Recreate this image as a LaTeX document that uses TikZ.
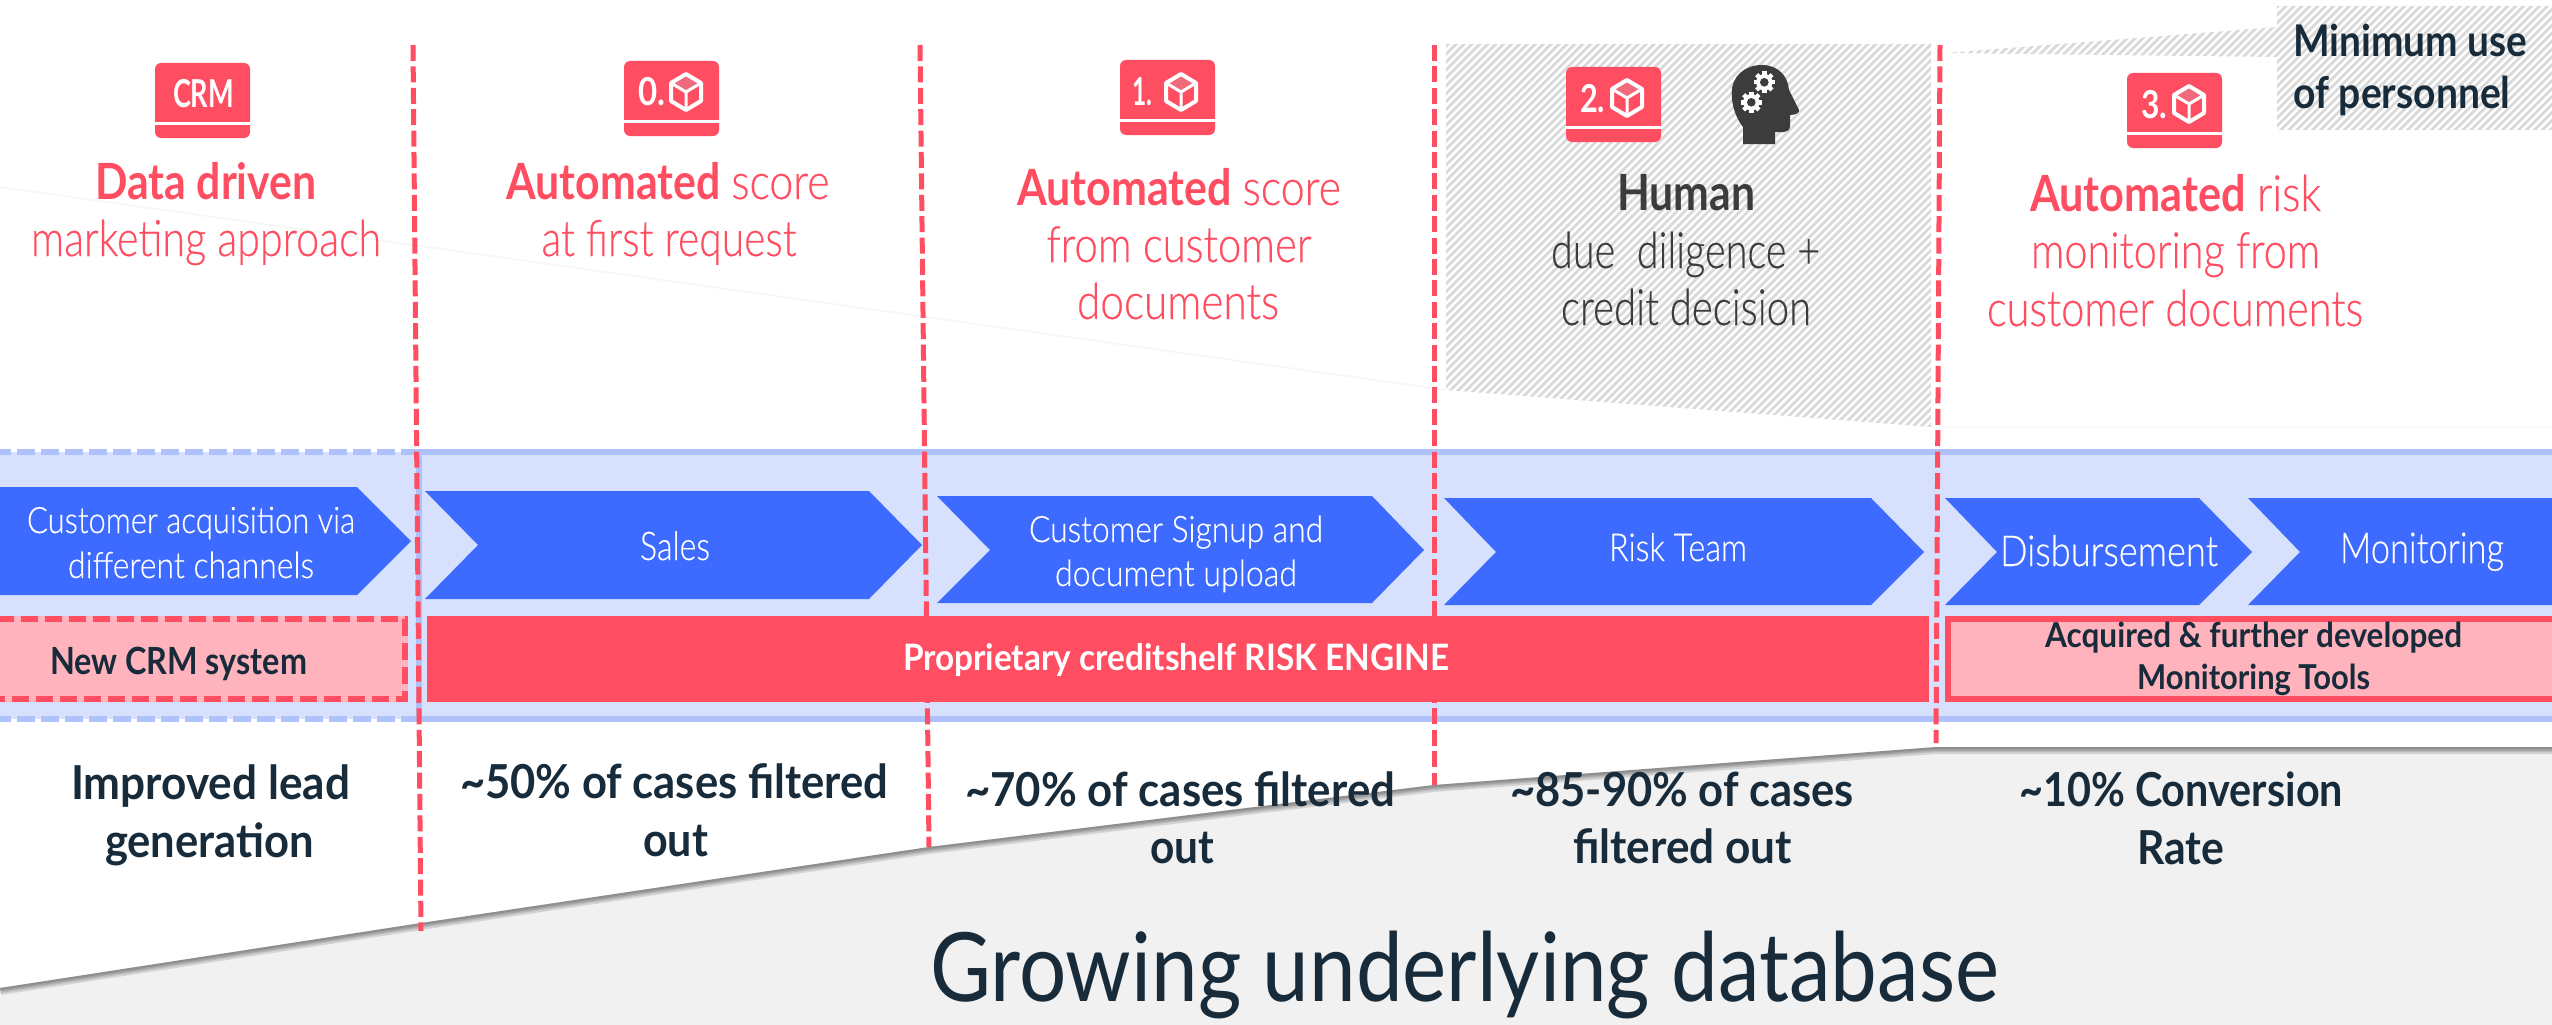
\documentclass[tikz,border=0pt]{standalone}
\usepackage{graphicx}
\usepackage{fontspec}
\usetikzlibrary{patterns.meta}
\setmainfont{Lato}
\newfontfamily\lgt[FakeBold=0.35]{Lato Light}
\definecolor{cred}{HTML}{FF4D61}
\definecolor{cpink}{HTML}{FFB3BD}
\definecolor{cblue}{HTML}{3D6BFF}
\definecolor{cband}{HTML}{D7E0FD}
\definecolor{cedge}{HTML}{AFC1FB}
\definecolor{cdark}{HTML}{172B3A}
\definecolor{cgrey}{HTML}{3C3C3C}
\definecolor{cwedge}{HTML}{F1F1F1}
\definecolor{chatch}{HTML}{D9D9D9}
\definecolor{cface}{HTML}{EE6A7C}
\newsavebox\fwbox
\newcommand\fw[2]{\sbox\fwbox{#2}\pgfmathsetmacro\fwr{#1/\the\wd\fwbox}\scalebox{\fwr}[1]{\usebox\fwbox}}
% color, name, centre x, baseline y, width, size, text
\newcommand\T[7]{\pgfmathsetmacro\fsz{#6*1.04}\node[txt,text=#1,font=\fontsize{\fsz}{\fsz}\selectfont] (#2) at (#3,#4) {\fw{#5}{#7}};}
\newcommand\iconbox[3]{%
  \fill[cred,rounded corners=6pt] (#2,#3) rectangle ++(95,75);
  \fill[white] (#2-1,#3+58.5) rectangle ++(97,3);
  \node[txt,text=white] (#1) at (#2,#3) {};}
\newcommand\cube[2]{%
  \begin{scope}[shift={(#1,#2)}]
  \fill[cface] (0,-18)--(15,-9)--(0,0)--(-15,-9)--cycle;
  \draw[white,line width=4pt,line join=round] (0,-18)--(15,-9)--(15,9)--(0,18)--(-15,9)--(-15,-9)--cycle;
  \draw[white,line width=3pt] (-15,-9)--(0,0)--(15,-9) (0,0)--(0,18);
  \end{scope}}
\newcommand\gear[2]{%
  \begin{scope}[shift={(#1,#2)}]
  \fill[white] (0,0) circle (8.2);
  \foreach \a in {0,45,...,315}{\fill[white,rotate=\a] (-2.2,-10.8) rectangle (2.2,0);}
  \fill[cgrey] (0,0) circle (4.3);
  \end{scope}}
\tikzset{
  txt/.style={inner sep=0pt,outer sep=0pt,anchor=base,align=center},
  chev/.style={fill=cblue},
  dashline/.style={draw=cred,line width=5pt,dash pattern=on 16pt off 5.4pt},
  hatch/.style={pattern={Lines[angle=45,distance=5.6pt,line width=2.8pt]},pattern color=chatch},
}
\begin{document}
\begin{tikzpicture}[x=1pt,y=-1pt]
\useasboundingbox (0,0) rectangle (2552,1025);
\fill[white] (0,0) rectangle (2552,1025);
% bottom wedge
\fill[cwedge] (0,988)--(421,923)--(929,847)--(1434,785)--(1936,747)--(2552,747)--(2552,1025)--(0,1025)--cycle;
\begin{scope}
\clip (0,988)--(421,923)--(929,847)--(1434,785)--(1936,747)--(2552,747)--(2552,1025)--(0,1025)--cycle;
\foreach \w in {14,10,7,4}{
  \draw[black,opacity=.12,line width=\w pt] (0,988)--(421,923)--(929,847)--(1434,785)--(1936,747)--(2560,747);
}
\end{scope}
% faint shadows
\draw[black!4,line width=1.5pt] (0,187)--(1446,390);
\draw[black!2,line width=1.5pt] (1931,427)--(2552,427);
% hatched areas
\fill[hatch] (1446,44)--(1931,44)--(1931,427)--(1446,390)--cycle;
\fill[hatch] (2277,7)--(2552,7)--(2552,129)--(2277,129)--cycle;
\fill[hatch] (1945,53)--(2277,27)--(2277,57)--cycle;
% band
\fill[cband] (0,452) rectangle (2552,719);
\draw[cedge,line width=6pt] (2560,452)--(419,452)--(419,719)--(2560,719);
\draw[cedge,line width=6pt,dash pattern=on 18pt off 6pt] (419,452)--(0,452) (419,719)--(0,719);
% dashed separators
\draw[dashline] (413,45)--(421,931);
\draw[dashline] (920,45)--(929,847);
\draw[dashline] (1434,45)--(1434,785);
\draw[dashline] (1940,45)--(1936,743);
% chevrons
\fill[chev] (-1,487)--(357,487)--(411,541)--(357,595)--(-1,595)--cycle;
\fill[chev] (425,491)--(869,491)--(922,545)--(869,599)--(425,599)--(478,545)--cycle;
\fill[chev] (937,496)--(1372,496)--(1424,550)--(1372,603)--(937,603)--(990,550)--cycle;
\fill[chev] (1444,498)--(1871,498)--(1924,552)--(1871,605)--(1444,605)--(1496,552)--cycle;
\fill[chev] (1945,498)--(2199,498)--(2252,552)--(2199,605)--(1945,605)--(1997,552)--cycle;
\fill[chev] (2248,498)--(2553,498)--(2553,605)--(2248,605)--(2300,552)--cycle;
% tool bars
\fill[cpink] (-3,616) rectangle (408,702);
\draw[cred,line width=6pt,dash pattern=on 17pt off 7pt] (-3,619)--(405,619)--(405,699)--(-3,699);
\fill[cred] (427,615.5) rectangle (1929,702);
\fill[cpink,draw=cred,line width=6pt] (1948,619) rectangle (2560,699);
% icons
\iconbox{icrm}{155}{63}
\iconbox{izero}{624}{61}
\iconbox{ione}{1120}{60}
\iconbox{itwo}{1566}{67}
\iconbox{ithree}{2127}{73}
\cube{686}{92}
\cube{1181}{92}
\cube{1627}{98}
\cube{2189}{104}
\T{white}{tcrm}{203.5}{107}{61}{37}{\bfseries CRM}
\T{white}{tzero}{651.5}{106}{27}{37}{\bfseries 0.}
\T{white}{tone}{1142}{105}{20}{37}{\bfseries 1.}
\T{white}{ttwo}{1592.5}{112}{25}{37}{\bfseries 2.}
\T{white}{tthree}{2154}{118}{26}{37}{\bfseries 3.}
% head
\fill[cgrey] (1743,144)--(1743,127) .. controls (1736,118) and (1731.7,106) .. (1731.7,93) .. controls (1731.7,76) and (1745,65) .. (1761.7,65) .. controls (1778,65) and (1788,76) .. (1789,90) -- (1799,110) .. controls (1800,113) and (1795,115) .. (1790,115) -- (1790,126) .. controls (1790,130) and (1787,132) .. (1784,132) -- (1775,132) -- (1775,144) -- cycle;
\gear{1764.3}{82.3}
\gear{1751.3}{102.3}
% headings
\T{cred}{h1a}{206}{199}{221}{48}{\bfseries Data driven}
\T{cred}{h1b}{206}{256}{350}{48}{\lgt marketing approach}
\T{cred}{h2a}{668}{199}{323}{48}{{\bfseries Automated} {\lgt score}}
\T{cred}{h2b}{669}{256}{255}{48}{\lgt at first request}
\T{cred}{h3a}{1179}{205}{324}{48}{{\bfseries Automated} {\lgt score}}
\T{cred}{h3b}{1179}{262}{265}{48}{\lgt from customer}
\T{cred}{h3c}{1178}{319}{202}{48}{\lgt documents}
\T{cgrey}{h4a}{1686}{210}{138}{48}{\bfseries Human}
\T{cgrey}{h4b}{1685.5}{268}{269}{48}{\lgt due\ \ diligence +}
\T{cgrey}{h4c}{1686}{325}{250}{48}{\lgt credit decision}
\T{cred}{h5a}{2175.5}{211}{291}{48}{{\bfseries Automated} {\lgt risk}}
\T{cred}{h5b}{2175.5}{268}{289}{48}{\lgt monitoring from}
\T{cred}{h5c}{2175}{326}{376}{48}{\lgt customer documents}
\T{cdark}{m1}{2410}{57}{234}{42}{\bfseries Minimum use}
\T{cdark}{m2}{2402}{108}{217}{42}{\bfseries of personnel}
% chevron labels
\T{white}{c1a}{191}{533}{328}{35}{\lgt Customer acquisition via}
\T{white}{c1b}{191}{578}{246}{35}{\lgt different channels}
\T{white}{c2}{675}{560}{70}{38}{\lgt Sales}
\T{white}{c3a}{1176}{542}{294}{35}{\lgt Customer Signup and}
\T{white}{c3b}{1176}{586}{242}{35}{\lgt document upload}
\T{white}{c4}{1678}{561}{138}{37}{\lgt Risk Team}
\T{white}{c5}{2109}{566}{218}{41}{\lgt Disbursement}
\T{white}{c6}{2422}{563}{164}{41}{\lgt Monitoring}
% bar labels
\T{cdark}{b1}{178.5}{674}{257}{36}{\bfseries New CRM system}
\T{white}{b2}{1176}{670}{546}{35}{\bfseries Proprietary creditshelf RISK ENGINE}
\T{cdark}{b3a}{2253.5}{647}{417}{33}{\bfseries Acquired \& further developed}
\T{cdark}{b3b}{2253.5}{689}{233}{33}{\bfseries Monitoring Tools}
% results
\T{cdark}{r1a}{210.5}{799}{279}{45}{\bfseries Improved lead}
\T{cdark}{r1b}{209.5}{857}{209}{45}{\bfseries generation}
\T{cdark}{r2a}{674}{798}{428}{45}{\bfseries \textasciitilde 50\% of cases filtered}
\T{cdark}{r2b}{675.5}{856}{65}{45}{\bfseries out}
\T{cdark}{r3a}{1180}{806}{430}{45}{\bfseries \textasciitilde 70\% of cases filtered}
\T{cdark}{r3b}{1182}{863}{64}{45}{\bfseries out}
\T{cdark}{r4a}{1682}{806}{344}{45}{\bfseries \textasciitilde 85-90\% of cases}
\T{cdark}{r4b}{1682.5}{863}{219}{45}{\bfseries filtered out}
\T{cdark}{r5a}{2181}{806}{324}{45}{\bfseries \textasciitilde 10\% Conversion}
\T{cdark}{r5b}{2180.5}{864}{87}{45}{\bfseries Rate}
\T{cdark}{g}{1464.5}{1001}{1069}{92}{Growing underlying database}
\end{tikzpicture}
\end{document}
